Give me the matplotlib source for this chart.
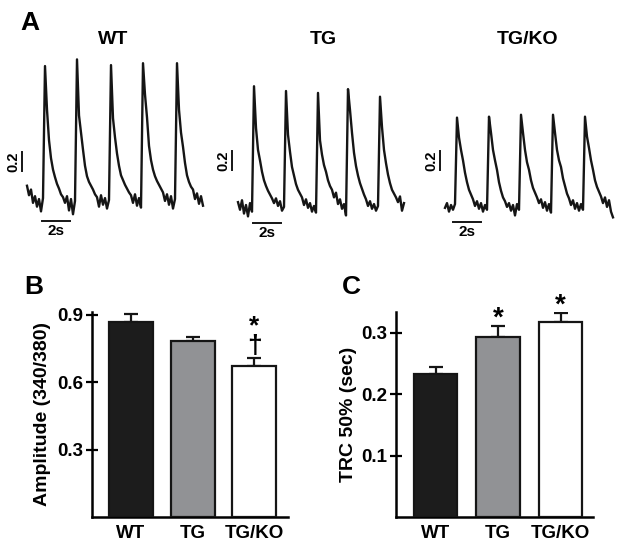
import numpy as np
import matplotlib
matplotlib.use("Agg")
import matplotlib.pyplot as plt

plt.rcParams['font.family'] = ['Liberation Sans', 'DejaVu Sans']
plt.rcParams['font.weight'] = 'bold'

# ---- Ca2+ transient traces (fura-2 ratio, sampled every 1/7 s) ----
dt = 1.0 / 7
wt_trace = [0.15, 0.05, 0.11, -0.03, 0.04, -0.07, 0.01, -0.12, 0.02,
            1.41, 0.95, 0.63, 0.44, 0.32, 0.24, 0.17, 0.12, 0.06, 0.03, -0.03, 0.04, -0.11, 0.01, -0.15, -0.01,
            1.48, 0.89, 0.71, 0.53, 0.36, 0.25, 0.19, 0.15, 0.11, 0.06, 0.03, -0.07, 0.05, -0.05, 0.02, -0.09, 0.00,
            1.42, 0.86, 0.66, 0.49, 0.36, 0.26, 0.21, 0.16, 0.12, 0.08, 0.05, -0.03, 0.06, -0.06, 0.02, -0.08,
            1.44, 1.11, 0.87, 0.57, 0.42, 0.32, 0.25, 0.20, 0.16, 0.12, 0.08, -0.01, 0.06, -0.05, 0.04, -0.09, 0.01,
            1.44, 0.95, 0.71, 0.56, 0.39, 0.26, 0.19, 0.14, 0.11, 0.01, 0.07, -0.04, 0.04, -0.06]
tg_trace = [0.03, -0.05, 0.05, -0.09, 0.00, -0.12, 0.02, -0.07,
            1.25, 0.81, 0.58, 0.47, 0.35, 0.26, 0.20, 0.15, 0.11, 0.07, 0.02, 0.07, -0.01, 0.04, -0.06, -0.02,
            1.20, 0.74, 0.56, 0.40, 0.31, 0.22, 0.16, 0.12, 0.08, 0.00, 0.06, -0.03, 0.02, -0.07, -0.01, -0.08,
            1.18, 0.68, 0.53, 0.42, 0.35, 0.26, 0.20, 0.16, 0.08, 0.13, 0.01, 0.06, -0.04, 0.01, -0.11,
            1.22, 1.00, 0.76, 0.55, 0.41, 0.31, 0.23, 0.17, 0.11, 0.06, -0.01, 0.04, -0.04, 0.01, -0.06, -0.01,
            1.14, 0.82, 0.58, 0.44, 0.32, 0.23, 0.16, 0.12, 0.08, 0.03, 0.09, -0.06, 0.02]
tgko_trace = [-0.03, 0.02, -0.07, 0.00, -0.05, 0.01,
              0.92, 0.71, 0.58, 0.47, 0.34, 0.24, 0.16, 0.11, 0.06, -0.01, 0.04, -0.04, 0.02, -0.07, 0.00, -0.05,
              0.93, 0.76, 0.58, 0.47, 0.37, 0.24, 0.15, 0.08, 0.04, -0.02, 0.02, -0.06, 0.00, -0.11, 0.01, -0.05,
              0.95, 0.76, 0.58, 0.45, 0.37, 0.26, 0.18, 0.13, 0.08, 0.02, 0.06, -0.03, 0.03, -0.06, 0.01, -0.08,
              0.95, 0.76, 0.58, 0.47, 0.40, 0.28, 0.20, 0.12, 0.07, 0.00, 0.05, -0.04, 0.02, -0.06, 0.01, -0.05,
              0.93, 0.72, 0.60, 0.47, 0.37, 0.26, 0.19, 0.14, 0.09, 0.02, 0.08, -0.02, 0.05, -0.07, -0.13]

# ---- summary bars ----
groups = ['WT', 'TG', 'TG/KO']
amp_mean = [0.869, 0.784, 0.673]
amp_sem = [0.035, 0.018, 0.036]
trc_mean = [0.233, 0.293, 0.318]
trc_sem = [0.012, 0.018, 0.014]
bar_colors = ['#1c1c1c', '#919295', 'white']

W, H = 624, 551
fig = plt.figure(figsize=(W / 100, H / 100), dpi=100)


def fx(px):
    return px / W


def fy(py):
    return 1 - py / H


def px_axes(left, top, right, bottom):
    return fig.add_axes([fx(left), fy(bottom), (right - left) / W, (bottom - top) / H])


# trace panels: start pixel, baseline pixel, 2s bar start (s), bar y (px), 0.2 bar x (px), 0.2 bar bottom (px)
traces = [wt_trace, tg_trace, tgko_trace]
titles = ['WT', 'TG', 'TG/KO']
title_x = [113, 323, 528]
x0s = [27, 238, 445]
bases = [200, 205, 205]
sbar_t = [1.07, 1.07, 0.57]
sbar_y = [221, 223, 222]
vbar_x = [22, 232, 440]
vbar_bot = [171, 170, 170]
pxs = 14.0   # pixels per second
pyu = 95.0   # pixels per ratio unit

for tr, ttl, tx, x0, yb, st, sy, vx, vb in zip(traces, titles, title_x, x0s, bases,
                                               sbar_t, sbar_y, vbar_x, vbar_bot):
    ax = px_axes(x0 - 25, 40, x0 + 180, 245)
    t = np.arange(len(tr)) * dt
    ax.plot(t, tr, color='#151515', lw=1.7)
    ax.set_xlim(-25 / pxs, 180 / pxs)
    ax.set_ylim((yb - 245) / pyu, (yb - 40) / pyu)
    ax.axis('off')
    # 2 s scale bar
    by = (yb - sy) / pyu
    ax.plot([st, st + 2], [by, by], color='#151515', lw=1.4, clip_on=False)
    ax.text(st + 1, by - 3 / pyu, '2s', ha='center', va='top', fontsize=11, fontweight='bold')
    # 0.2 ratio scale bar
    vt = (vx - x0) / pxs
    v0 = (yb - vb) / pyu
    ax.plot([vt, vt], [v0, v0 + 0.2], color='#151515', lw=1.4, clip_on=False)
    ax.text(vt - 1.5 / pxs, v0 + 0.1, '0.2', ha='right', va='center', rotation=90,
            fontsize=10.5, fontweight='bold')
    fig.text(fx(tx), fy(39), ttl, ha='center', va='center', fontsize=14, fontweight='bold')

fig.text(fx(30), fy(23), 'A', ha='center', va='center', fontsize=19, fontweight='bold')
fig.text(fx(34), fy(287), 'B', ha='center', va='center', fontsize=19, fontweight='bold')
fig.text(fx(351), fy(287), 'C', ha='center', va='center', fontsize=19, fontweight='bold')


def bar_panel(ax, means, sems, width, xlim, ylim, yticks, ylabel):
    x = np.arange(len(groups))
    ax.bar(x, means, width=width, color=bar_colors, edgecolor='#151515', linewidth=1.6, zorder=3)
    ax.errorbar(x, means, yerr=[np.zeros(len(sems)), sems], fmt='none', ecolor='#151515',
                elinewidth=1.6, capsize=5, capthick=1.6, zorder=2)
    ax.set_xlim(*xlim)
    ax.set_ylim(*ylim)
    ax.set_xticks(x)
    ax.set_xticklabels(groups, fontsize=13.5, fontweight='bold')
    ax.set_yticks(yticks)
    ax.set_yticklabels(['%.1f' % v for v in yticks], fontsize=13.5, fontweight='bold')
    ax.tick_params(axis='x', length=0, pad=6)
    ax.tick_params(axis='y', direction='inout', length=9, width=1.6, pad=2)
    for s in ['top', 'right']:
        ax.spines[s].set_visible(False)
    for s in ['left', 'bottom']:
        ax.spines[s].set_linewidth(1.8)
    ax.set_ylabel(ylabel, fontsize=14, fontweight='bold')


axb = fig.add_axes([fx(92), fy(517), 196 / W, 205 / H])
bar_panel(axb, amp_mean, amp_sem, 0.71, (-0.632, 2.545), (0, 0.913), [0.3, 0.6, 0.9],
          'Amplitude (340/380)')
axb.yaxis.set_label_coords((51 - 92) / 196, 0.5)
# significance marks over TG/KO: * vs WT, dagger vs TG
axb.annotate('*\n\u2020', (2, amp_mean[2] + amp_sem[2]), xytext=(0, 0), textcoords='offset points',
             ha='center', va='bottom', fontsize=19, fontweight='bold', linespacing=0.75)

axc = fig.add_axes([fx(396), fy(517), 197 / W, 205 / H])
bar_panel(axc, trc_mean, trc_sem, 0.70, (-0.632, 2.52), (0, 0.334), [0.1, 0.2, 0.3],
          'TRC 50% (sec)')
axc.yaxis.set_label_coords((357 - 396) / 197, 0.5)
for i in [1, 2]:
    axc.annotate('*', (i, trc_mean[i] + trc_sem[i]), xytext=(0, -4), textcoords='offset points',
                 ha='center', va='bottom', fontsize=20, fontweight='bold')

fig.savefig('out.png', dpi=100)
